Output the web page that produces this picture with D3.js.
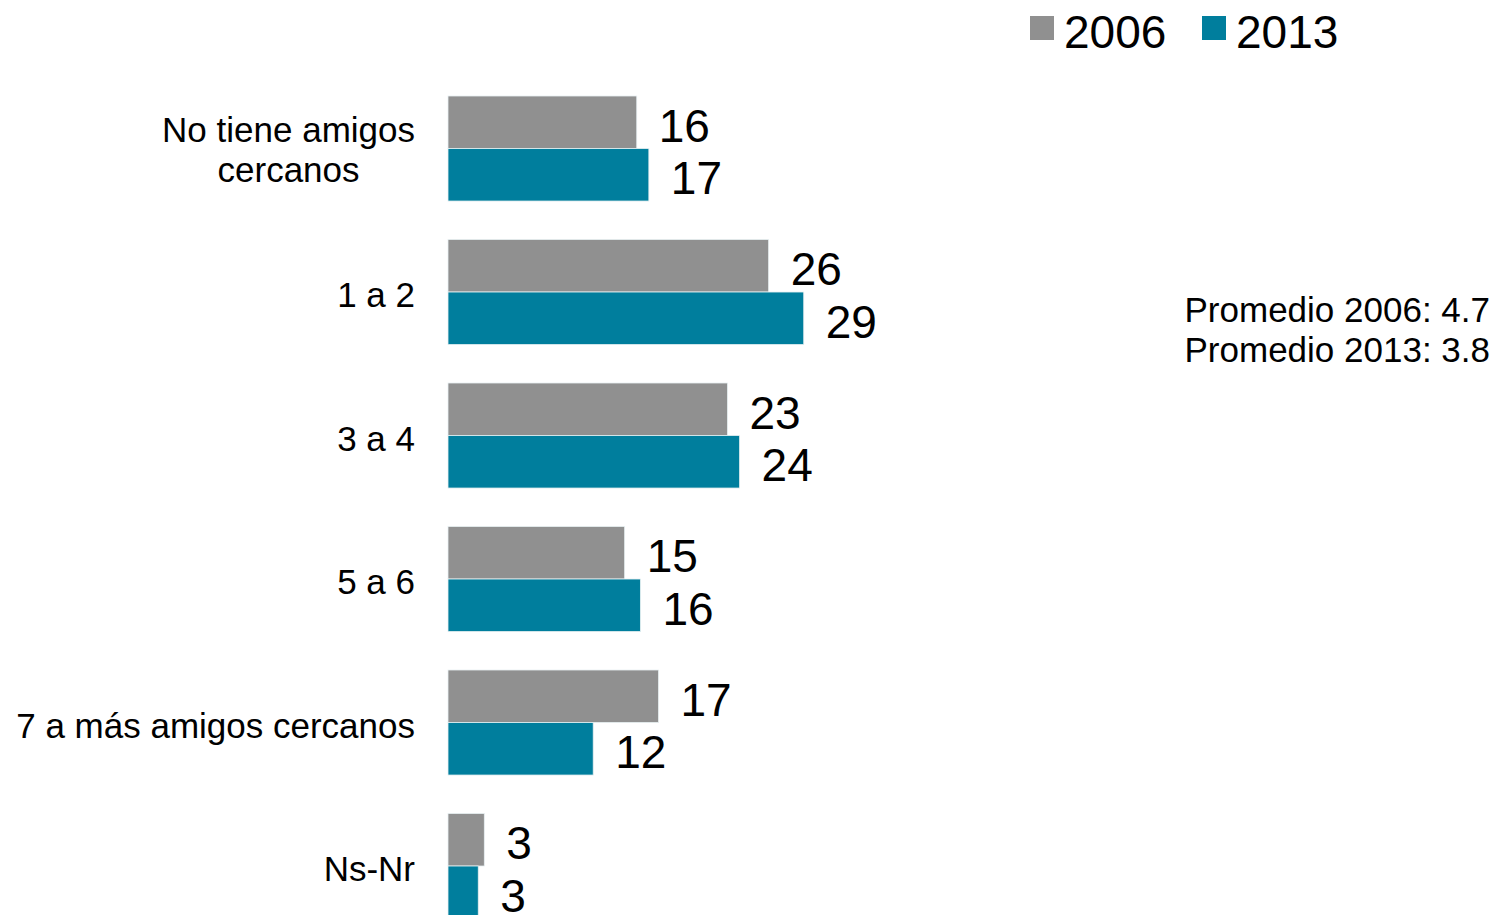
<!DOCTYPE html>
<html lang="es">
<head>
    <meta charset="UTF-8">
    <title>Amigos cercanos 2006 - 2013</title>
    <script src="https://d3js.org/d3.v7.min.js"></script>
    <style>
        body { margin: 0; background: #fff; }
        text { font-family: "Liberation Sans", Arial, sans-serif; fill: #000; }
        .cat-label { font-size: 35px; }
        .value-label { font-size: 46px; }
        .legend-label { font-size: 46px; }
        .note { font-size: 35px; }
    </style>
</head>
<body>
    <script>
    // categorias (multi-line labels split on "|")
    const categories = ["No tiene amigos|cercanos", "1 a 2", "3 a 4", "5 a 6", "7 a más amigos cercanos", "Ns-Nr"];
    const series = ["2006", "2013"];
    // bar lengths
    const values2006 = [15.6, 26.5, 23.1, 14.6, 17.4, 3.0];
    const values2013 = [16.6, 29.4, 24.1, 15.9, 12.0, 2.5];
    // labels as printed
    const labels2006 = [16, 26, 23, 15, 17, 3];
    const labels2013 = [17, 29, 24, 16, 12, 3];
    const notes = ["Promedio 2006: 4.7", "Promedio 2013: 3.8"];

    const colors = { "2006": "#909090", "2013": "#007e9d" };

    const width = 1495, height = 915;

    const svg = d3.select("body").append("svg")
        .attr("width", width)
        .attr("height", height);

    const rows = categories.map((c, i) => ({
        cat: c,
        bars: [
            { key: "2006", value: values2006[i], label: labels2006[i] },
            { key: "2013", value: values2013[i], label: labels2013[i] }
        ]
    }));

    const x = d3.scaleLinear().domain([0, 30]).range([448, 448 + 363]);

    const y = d3.scaleBand()
        .domain(categories)
        .range([76.77, 76.77 + 6 * 143.5])
        .paddingInner(0.268)
        .paddingOuter(0.134);

    const ySub = d3.scaleBand()
        .domain(series)
        .range([0, y.bandwidth()]);

    const group = svg.append("g")
        .selectAll("g")
        .data(rows)
        .enter().append("g")
        .attr("transform", d => `translate(0,${y(d.cat)})`);

    group.selectAll("rect")
        .data(d => d.bars)
        .enter().append("rect")
        .attr("x", x(0))
        .attr("y", d => ySub(d.key))
        .attr("width", d => x(d.value) - x(0))
        .attr("height", ySub.bandwidth())
        .attr("fill", d => colors[d.key])
        .attr("stroke", "#e8f0f2")
        .attr("stroke-width", 0.8);

    group.selectAll("text.value-label")
        .data(d => d.bars)
        .enter().append("text")
        .attr("class", "value-label")
        .attr("x", d => x(d.value) + 22)
        .attr("y", d => ySub(d.key) + ySub.bandwidth() / 2 + 19.5)
        .text(d => d.label);

    // category labels, right side at x=415, multi-line blocks centered
    const lineH = 40;
    group.each(function (d) {
        const lines = d.cat.split("|");
        const g = d3.select(this);
        const mid = y.bandwidth() / 2;
        const off = lines.length > 1 ? 13 : 15;
        const t = g.append("text")
            .attr("class", "cat-label");
        lines.forEach((ln, k) => {
            t.append("tspan")
                .attr("x", 0)
                .attr("y", mid + off + (k - (lines.length - 1) / 2) * lineH)
                .text(ln);
        });
        if (lines.length > 1) {
            const maxW = d3.max(t.selectAll("tspan").nodes(), n => n.getComputedTextLength());
            t.attr("text-anchor", "middle");
            t.selectAll("tspan").attr("x", 415 - maxW / 2);
        } else {
            t.attr("text-anchor", "end");
            t.selectAll("tspan").attr("x", 415);
        }
    });

    // legend
    const legendX = { "2006": 1030, "2013": 1202 };
    const legend = svg.append("g")
        .selectAll("g")
        .data(series)
        .enter().append("g")
        .attr("transform", d => `translate(${legendX[d]},16)`);

    legend.append("rect")
        .attr("width", 24)
        .attr("height", 24)
        .attr("fill", d => colors[d]);

    legend.append("text")
        .attr("class", "legend-label")
        .attr("x", 34)
        .attr("y", 32)
        .text(d => d);

    // promedio notes
    svg.append("g")
        .selectAll("text")
        .data(notes)
        .enter().append("text")
        .attr("class", "note")
        .attr("text-anchor", "end")
        .attr("x", 1490)
        .attr("y", (d, i) => 322 + i * 40)
        .text(d => d);
    </script>
</body>
</html>
